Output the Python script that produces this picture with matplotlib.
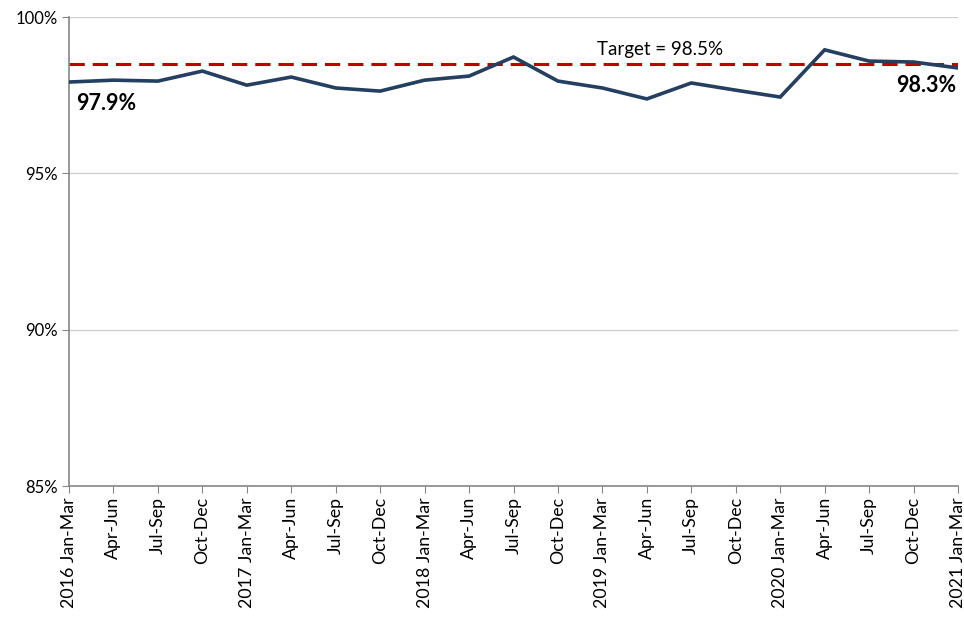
import matplotlib
matplotlib.use("Agg")
import matplotlib.pyplot as plt
from matplotlib.ticker import FuncFormatter

plt.rcParams['font.family'] = ['Lato', 'DejaVu Sans']

quarters = ["2016 Jan-Mar", "Apr-Jun", "Jul-Sep", "Oct-Dec",
            "2017 Jan-Mar", "Apr-Jun", "Jul-Sep", "Oct-Dec",
            "2018 Jan-Mar", "Apr-Jun", "Jul-Sep", "Oct-Dec",
            "2019 Jan-Mar", "Apr-Jun", "Jul-Sep", "Oct-Dec",
            "2020 Jan-Mar", "Apr-Jun", "Jul-Sep", "Oct-Dec",
            "2021 Jan-Mar"]
values = [97.92, 97.98, 97.95, 98.27, 97.82, 98.08, 97.73, 97.63,
          97.98, 98.11, 98.72, 97.95, 97.73, 97.38, 97.89, 97.66,
          97.44, 98.95, 98.59, 98.56, 98.37]
target = 98.5
first_label = "97.9%"
last_label = "98.3%"
target_label = "Target = 98.5%"

fig = plt.figure(figsize=(9.64, 6.2), dpi=100)
ax = fig.add_axes([69/964, 1-486/620, (958-69)/964, (486-17)/620])

x = list(range(len(quarters)))
ax.plot(x, values, color='#243f60', lw=2.6, solid_joinstyle='miter', zorder=3)
ax.axhline(target, color='#c00000', lw=2.2, ls=(0, (5, 2.6)), zorder=2)

ax.set_xlim(0, len(quarters)-1)
ax.set_ylim(85, 100)
ax.set_yticks([85, 90, 95, 100])
ax.yaxis.set_major_formatter(FuncFormatter(lambda v, p: f"{v:.0f}%"))
ax.set_xticks(x)
ax.set_xticklabels(quarters, rotation=90, fontsize=12.8)
ax.tick_params(axis='y', labelsize=12, length=5, color='#868686', pad=3)
ax.tick_params(axis='x', length=5, color='#868686', pad=3)
ax.grid(axis='y', color='#d0d0d0', lw=1)
ax.set_axisbelow(True)
for s in ['top', 'right']:
    ax.spines[s].set_visible(False)
for s in ['left', 'bottom']:
    ax.spines[s].set_color('#868686')
    ax.spines[s].set_linewidth(1.2)

ax.text(0.15, values[0] - 0.35, first_label, fontsize=15.5, fontweight='bold',
        ha='left', va='top')
ax.text(len(quarters)-1 - 0.05, values[-1] - 0.22, last_label, fontsize=15.5,
        fontweight='bold', ha='right', va='top')
ax.text(13.3, target + 0.2, target_label, fontsize=13.5, ha='center', va='bottom')

fig.savefig("out.png", dpi=100)
